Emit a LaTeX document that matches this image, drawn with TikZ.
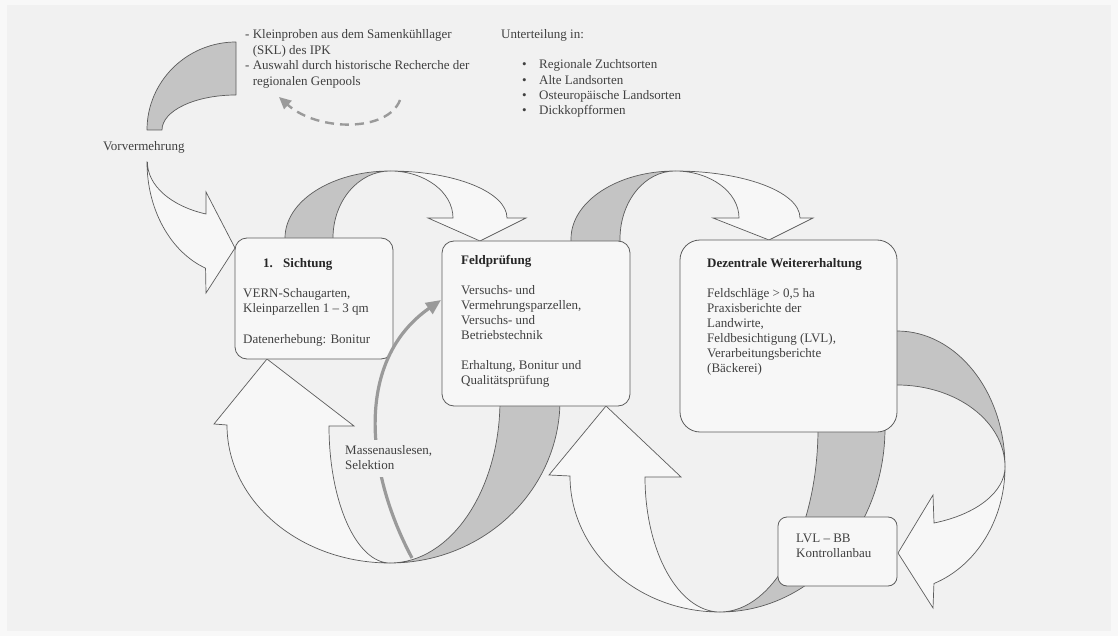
\documentclass[tikz,border=0pt]{standalone}
\usepackage{fontspec}
\setmainfont{Liberation Serif}
\usetikzlibrary{arrows.meta}
\definecolor{bg}{HTML}{F1F1F1}
\definecolor{bgedge}{HTML}{F8F8F8}
\definecolor{ribbon}{HTML}{C4C4C4}
\definecolor{lineclr}{HTML}{5C5C5C}
\definecolor{boxfill}{HTML}{F7F7F7}
\definecolor{txt}{HTML}{404040}
\definecolor{massclr}{HTML}{9A9A9A}
\newcommand{\mylines}[1]{\begin{tabular}[t]{@{}l@{}}#1\end{tabular}}
\begin{document}
\begin{tikzpicture}[x=1pt,y=1pt,yscale=-1,
  back/.style={fill=ribbon,draw=lineclr,line width=0.7pt,line join=round},
  front/.style={fill=boxfill,draw=lineclr,line width=0.7pt,line join=miter},
  box/.style={draw=lineclr,fill=boxfill,line width=0.8pt,rounded corners=12pt,inner sep=0pt},
  lbl/.style={inner sep=0pt,anchor=base west,text=txt,font=\fontsize{13}{15.3}\selectfont},
  ttl/.style={inner sep=0pt,anchor=base west,text=black!85,font=\fontsize{13}{15.3}\selectfont\bfseries},
]
\fill[bgedge] (0,0) rectangle (1118,636);
\fill[bg] (7,5) rectangle (1111,631);
\useasboundingbox (0,0) rectangle (1118,636);

% ---- back (gray) parts of the ribbons
\path[back] (147,130) arc[start angle=180,end angle=270,x radius=89,y radius=88] -- (236,95) arc[start angle=270,end angle=180,x radius=74,y radius=35] -- cycle;
\path[back] (285,246) -- (285,238) arc[start angle=180,end angle=270,x radius=105,y radius=67] arc[start angle=270,end angle=180,x radius=57,y radius=67] -- (333,246) -- cycle;
\path[back] (571,246) -- (571,239) arc[start angle=180,end angle=270,x radius=104,y radius=68] arc[start angle=270,end angle=180,x radius=55,y radius=68] -- (620,246) -- cycle;
\path[back] (560,400) arc[start angle=0,end angle=90,x radius=170,y radius=163] arc[start angle=90,end angle=0,x radius=110,y radius=163] -- cycle;
\path[back] (885,428) arc[start angle=0,end angle=90,x radius=165,y radius=184] arc[start angle=90,end angle=0,x radius=98,y radius=184] -- cycle;
\path[back] (880,331) -- (897,331) arc[start angle=270,end angle=360,x radius=108,y radius=136] arc[start angle=0,end angle=-90,x radius=108,y radius=82] -- (880,385) -- cycle;

% ---- front (white) parts with arrow heads
\path[front] (147,162) arc[start angle=180,end angle=110,x radius=89,y radius=113] -- (206,293) -- (235,248) -- (206,192) -- (206,214) arc[start angle=110,end angle=180,x radius=89,y radius=55] -- cycle;
\path[front] (390,171) arc[start angle=270,end angle=360,x radius=117,y radius=47] -- (526,218) -- (480,241) -- (428,218) -- (453,218) arc[start angle=0,end angle=-90,x radius=63,y radius=47] -- cycle;
\path[front] (675,171) arc[start angle=270,end angle=360,x radius=125,y radius=47] -- (813,218) -- (769,240) -- (713,218) -- (739,218) arc[start angle=0,end angle=-90,x radius=64,y radius=47] -- cycle;
\path[front] (390,563) arc[start angle=90,end angle=180,x radius=163,y radius=138] -- (214,424) -- (267,359) -- (354,426) -- (329,426) arc[start angle=180,end angle=90,x radius=61,y radius=137] -- cycle;
\path[front] (720,612) arc[start angle=90,end angle=180,x radius=150,y radius=136] -- (549,475) -- (606,406) -- (681,477) -- (645,477) arc[start angle=180,end angle=90,x radius=75,y radius=135] -- cycle;
\path[front] (1005,467) arc[start angle=0,end angle=70,x radius=108,y radius=124] -- (933,608) -- (898,553) -- (933,495) -- (934,523) arc[start angle=70,end angle=0,x radius=108,y radius=60] -- cycle;

% ---- boxes
\node[box,minimum width=158pt,minimum height=121pt] (sicht) at (314,298.5) {};
\node[box,minimum width=188pt,minimum height=165pt] (feld) at (536,323.5) {};
\node[box,rounded corners=20pt,minimum width=217pt,minimum height=192pt] (dez) at (788.5,336) {};
\node[box,rounded corners=9pt,minimum width=119pt,minimum height=69pt] (lvl) at (837.5,551.5) {};

% ---- box texts
\node[ttl] (sichtT) at (263,267) {\makebox[20pt][l]{1.}Sichtung};
\node[lbl] (sichtB) at (243,297) {\mylines{VERN-Schaugarten,\\ Kleinparzellen 1 – 3 qm\\[15.4pt] Datenerhebung: Bonitur}};
\node[ttl] (feldT) at (461,265) {Feldprüfung};
\node[lbl] (feldB) at (461,294) {\mylines{Versuchs- und\\ Vermehrungsparzellen,\\ Versuchs- und\\ Betriebstechnik\\[14pt] Erhaltung, Bonitur und\\ Qualitätsprüfung}};
\node[ttl] (dezT) at (707,267) {Dezentrale Weitererhaltung};
\node[lbl,font=\fontsize{13}{15}\selectfont] (dezB) at (707,297) {\mylines{Feldschläge > 0,5 ha\\ Praxisberichte der\\ Landwirte,\\ Feldbesichtigung (LVL),\\ Verarbeitungsberichte\\ (Bäckerei)}};
\node[lbl] (lvlT) at (796,542) {\mylines{LVL – BB\\ Kontrollanbau}};

% ---- free texts
\node[lbl,font=\fontsize{13}{15.5}\selectfont] (ipk) at (245,39) {\mylines{- Kleinproben aus dem Samenkühllager\\ \phantom{- }(SKL) des IPK\\ - Auswahl durch historische Recherche der\\ \phantom{- }regionalen Genpools}};
\node[lbl] (unter) at (501,39) {Unterteilung in:};
\node[lbl] (liste) at (522,69) {\begin{tabular}[t]{@{}p{17pt}@{}l@{}}•&Regionale Zuchtsorten\\ •&Alte Landsorten\\ •&Osteuropäische Landsorten\\ •&Dickkopfformen\end{tabular}};
\node[lbl] (vorv) at (103,151) {Vorvermehrung};

% ---- connectors
\coordinate (mS) at (412,558);
\coordinate (mE) at (441,300);
\draw[massclr,line width=3.2pt,-{Triangle[length=15pt,width=13pt]}] (mS) .. controls (365,470) and (355,360) .. (mE);
\node[lbl,fill=bg,inner sep=3pt] (mass) at (342,454) {\mylines{Massenauslesen,\\ Selektion}};
\coordinate (dS) at (400,100);
\coordinate (dE) at (279,97);
\draw[massclr,line width=2.4pt,dash pattern=on 9pt off 6pt,-{Triangle[length=12pt,width=11pt]}] (dS) .. controls (388,132) and (318,132) .. (dE);
\end{tikzpicture}
\end{document}
